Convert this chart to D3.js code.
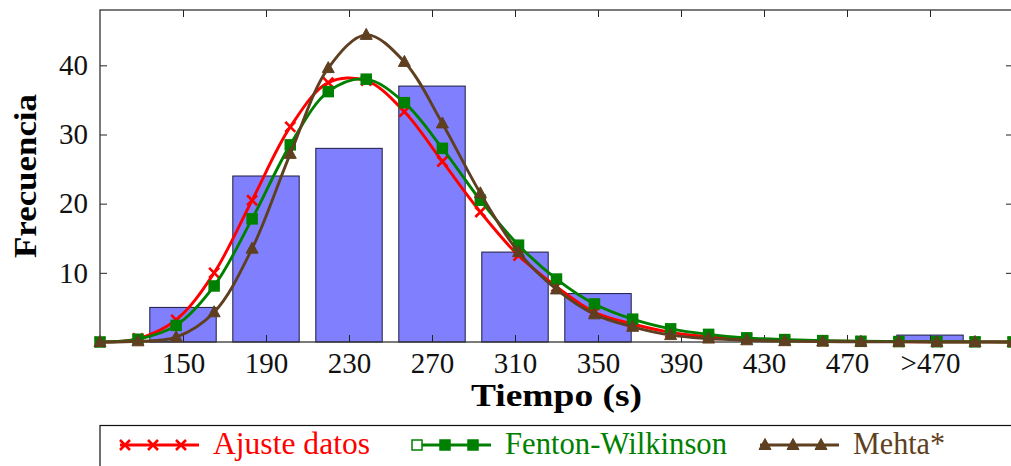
<!DOCTYPE html>
<html>
<head>
<meta charset="utf-8">
<script src="https://cdnjs.cloudflare.com/ajax/libs/d3/7.8.5/d3.min.js"></script>
<style>
  body { margin: 0; background: white; }
  text { font-family: "Liberation Serif", "Times New Roman", serif; }
</style>
</head>
<body>
<div id="vizContainer"></div>
<script>
let w = 1011;
let h = 466;

// histogram bins
let categories = ["150", "190", "230", "270", "310", "350", "390", "430", "470", ">470"];
let binCenters = [150, 190, 230, 270, 310, 350, 390, 430, 470, 510];
let counts = [5, 24, 28, 37, 13, 7, 0, 0, 0, 1];

// fitted curves, sampled along the time axis
let tSample = [110, 128.3, 146.7, 165, 183.3, 201.7, 220, 238.3, 256.7, 275, 293.3, 311.7, 330,
  348.3, 366.7, 385, 403.3, 421.7, 440, 458.3, 476.7, 495, 513.3, 531.7, 550];
let ajuste = [0, 0.5, 3.2, 10.0, 20.5, 31.1, 37.5, 37.8, 33.3, 26.1, 18.8, 12.5, 8.0,
  4.3, 2.6, 1.4, 0.8, 0.45, 0.25, 0.15, 0.08, 0.05, 0.03, 0.02, 0.01];
let fenton = [0, 0.4, 2.4, 8.1, 17.8, 28.5, 36.2, 38.0, 34.6, 28.0, 20.5, 14.0, 9.1,
  5.5, 3.3, 1.9, 1.1, 0.6, 0.35, 0.2, 0.1, 0.06, 0.04, 0.02, 0.01];
let mehta = [0, 0.1, 0.7, 4.3, 13.5, 27.2, 39.6, 44.4, 40.5, 31.6, 21.5, 13.0, 7.6,
  4.0, 2.2, 1.0, 0.5, 0.25, 0.12, 0.06, 0.03, 0.02, 0.01, 0, 0];

let yTicks = [10, 20, 30, 40];

let pLeft = 100, pTop = 10, pRight = 1013, pBottom = 342;

let viz = d3.select("#vizContainer").append("svg")
  .attr("width", w)
  .attr("height", h)
  .style("display", "block");

let xScale = d3.scaleLinear().domain([110, 550]).range([pLeft, pRight]);
let yScale = d3.scaleLinear().domain([0, 48]).range([pBottom, pTop]);
let barW = xScale(142) - xScale(110);

// bars
viz.append("g").selectAll("rect").data(counts).enter().append("rect")
  .attr("x", (d, i) => xScale(binCenters[i]) - barW / 2)
  .attr("y", d => yScale(d))
  .attr("width", barW)
  .attr("height", d => yScale(0) - yScale(d))
  .attr("fill", "#8080ff")
  .attr("stroke", "#1a1a40")
  .attr("stroke-width", 1);

// axes with inward ticks
let fmt = (d, i) => categories[i];
let xb = viz.append("g").attr("transform", `translate(0,${pBottom})`)
  .call(d3.axisBottom(xScale).tickValues(binCenters).tickFormat(fmt).tickSizeInner(-7).tickSizeOuter(0).tickPadding(10));
let xt = viz.append("g").attr("transform", `translate(0,${pTop})`)
  .call(d3.axisTop(xScale).tickValues(binCenters).tickFormat("").tickSizeInner(-7).tickSizeOuter(0));
let yl = viz.append("g").attr("transform", `translate(${pLeft},0)`)
  .call(d3.axisLeft(yScale).tickValues(yTicks).tickSizeInner(-7).tickSizeOuter(0).tickPadding(12));
let yr = viz.append("g").attr("transform", `translate(${pRight},0)`)
  .call(d3.axisRight(yScale).tickValues(yTicks).tickFormat("").tickSizeInner(-7).tickSizeOuter(0));

[xb, xt, yl, yr].forEach(g => {
  g.select(".domain").remove();
  g.selectAll("text").style("font-size", "29px").attr("fill", "#111");
  g.selectAll("line").attr("stroke", "#222");
});

viz.append("rect")
  .attr("x", pLeft).attr("y", pTop)
  .attr("width", pRight - pLeft).attr("height", pBottom - pTop)
  .attr("fill", "none").attr("stroke", "#333").attr("stroke-width", 1.3);

// curves
let series = [
  { name: "Ajuste datos", values: ajuste, color: "#ff0000", mark: "cross" },
  { name: "Fenton-Wilkinson", values: fenton, color: "#008000", mark: "square" },
  { name: "Mehta*", values: mehta, color: "#5e3f20", mark: "triangle" }
];

let line = d3.line()
  .x((d, i) => xScale(tSample[i]))
  .y(d => yScale(d))
  .curve(d3.curveCatmullRom.alpha(0.5));

function drawMark(g, type, color, x, y, hollow) {
  if (type === "cross") {
    g.append("path")
      .attr("d", `M${x - 5},${y - 5}L${x + 5},${y + 5}M${x - 5},${y + 5}L${x + 5},${y - 5}`)
      .attr("stroke", color).attr("stroke-width", 2.6).attr("fill", "none");
  } else if (type === "square") {
    g.append("rect")
      .attr("x", x - 5).attr("y", y - 5).attr("width", 10).attr("height", 10)
      .attr("fill", hollow ? "white" : color).attr("stroke", color).attr("stroke-width", 1.5);
  } else {
    g.append("path")
      .attr("d", `M${x},${y - 6.5}L${x + 6},${y + 4.5}L${x - 6},${y + 4.5}Z`)
      .attr("fill", color).attr("stroke", color).attr("stroke-width", 1);
  }
}

series.forEach(s => {
  let g = viz.append("g");
  g.append("path")
    .attr("d", line(s.values))
    .attr("fill", "none")
    .attr("stroke", s.color)
    .attr("stroke-width", 2.9);
  s.values.forEach((v, i) => drawMark(g, s.mark, s.color, xScale(tSample[i]), yScale(v), false));
});

// axis titles
viz.append("text")
  .attr("x", (pLeft + pRight) / 2).attr("y", 406)
  .attr("text-anchor", "middle")
  .style("font-size", "31px").style("font-weight", "bold")
  .attr("textLength", 171).attr("lengthAdjust", "spacingAndGlyphs")
  .text("Tiempo (s)");

viz.append("text")
  .attr("transform", `translate(36,176) rotate(-90)`)
  .attr("text-anchor", "middle")
  .style("font-size", "31px").style("font-weight", "bold")
  .attr("textLength", 164).attr("lengthAdjust", "spacingAndGlyphs")
  .text("Frecuencia");

// legend
let legend = viz.append("g");
legend.append("rect")
  .attr("x", 100).attr("y", 425.5).attr("width", 960).attr("height", 80)
  .attr("fill", "white").attr("stroke", "#111").attr("stroke-width", 1.2);

let legendX = [120, 412, 760];
let legendW = [157, 222, 92];
series.forEach((s, i) => {
  let x0 = legendX[i], ly = 445;
  legend.append("line")
    .attr("x1", x0).attr("x2", x0 + 79).attr("y1", ly).attr("y2", ly)
    .attr("stroke", s.color).attr("stroke-width", 2.9);
  [0, 1, 2].forEach(j => drawMark(legend, s.mark, s.color, x0 + 5 + j * 28, ly, s.mark === "square" && j === 0));
  legend.append("text")
    .attr("x", x0 + 93).attr("y", 454)
    .style("font-size", "31px")
    .attr("fill", s.color)
    .attr("textLength", legendW[i]).attr("lengthAdjust", "spacingAndGlyphs")
    .text(s.name);
});
</script>
</body>
</html>
